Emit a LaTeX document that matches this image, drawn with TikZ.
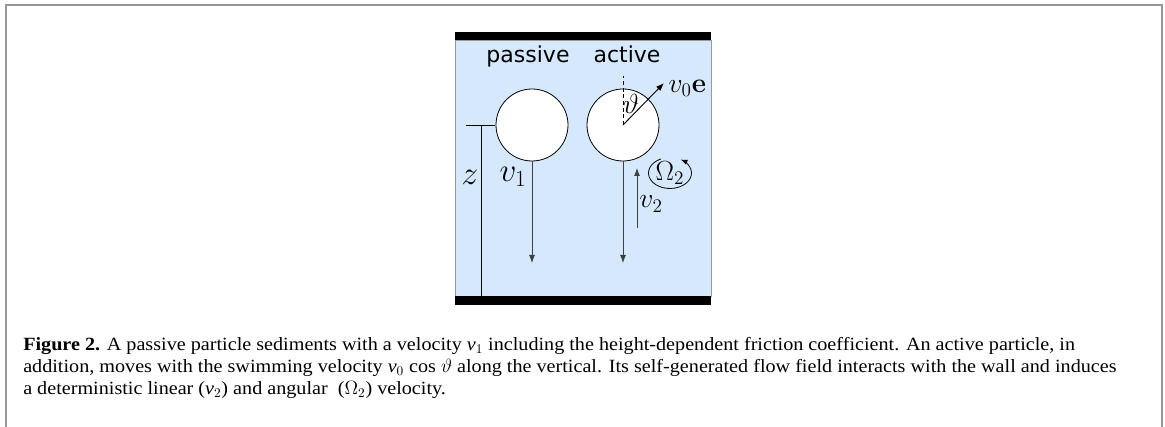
\documentclass[tikz,border=0pt]{standalone}
\usepackage[no-math]{fontspec}
\setmainfont[FakeStretch=1.08]{Liberation Serif}
\newfontfamily\labelfont{DejaVu Sans}
\usetikzlibrary{positioning,calc,arrows.meta}
\definecolor{fluid}{RGB}{213,232,252}
\definecolor{framegray}{RGB}{150,150,150}

\begin{document}
\begin{tikzpicture}
    [
    x=0.75pt, y=-0.75pt,
    particle/.style={
      circle, draw=black, fill=white, line width=0.6pt,
      minimum size=54pt, inner sep=0pt
      },
    velocity/.style={
      line width=0.7pt, color=black!75, -{Latex[length=6pt,width=4.5pt]}
      },
    wall/.style={fill=black},
    mathlabel/.style={inner sep=1pt, font=\fontsize{20}{23}\selectfont},
    biglabel/.style={inner sep=1pt, font=\fontsize{25}{28}\selectfont},
    boxlabel/.style={anchor=base, inner sep=0pt, font=\labelfont\fontsize{16.5}{20}\selectfont},
    captionline/.style={anchor=base west, inner sep=0pt, font=\fontsize{14}{16.5}\selectfont}
    ]
    \useasboundingbox (0,0) rectangle (1165,427);

    % Frame round the figure
    \draw[framegray, line width=1.5pt] (6,427) -- (6,5) -- (1162,5) -- (1162,427);

    % Fluid between the two walls
    \filldraw[fill=fluid, draw=black!40, line width=0.6pt] (455,40) rectangle (711,296);
    \foreach \ytop/\ybot in {32/40, 296/305} {
      \fill[wall] (455,\ytop) rectangle (711,\ybot);
    }

    \node[boxlabel] (passive) at (528,63) {passive};
    \node[boxlabel] (active) at (627,63) {active};

    % Draw the two particles
    \node[particle] (pas) at (532,125) {};
    \node[particle] (act) at (623,125) {};

    % Sedimentation velocities
    \coordinate (pasend) at (532,263);
    \coordinate (actend) at (623,263);
    \draw[velocity] (pas.south) -- (pasend);
    \draw[velocity] (act.south) -- (actend);
    \node[biglabel] (vone) at (513,177) {$v_1$};

    % Swimming direction of the active particle
    \coordinate (up) at ($(act.center)+(0,-49)$);
    \coordinate (swim) at ($(act.center)+(41,-42)$);
    \draw[densely dashed, line width=0.5pt] (act.center) -- (up);
    \draw[velocity, color=black] (act.center) -- (swim);
    \node[mathlabel, anchor=west] (vzero) at (667,88) {$v_0\mathbf{e}$};
    \node[mathlabel] (theta) at (631,104) {$\vartheta$};

    % Wall induced velocities
    \coordinate (vtwostart) at (637,228);
    \coordinate (vtwoend) at (637,168);
    \draw[velocity] (vtwostart) -- (vtwoend);
    \node[mathlabel] (vtwo) at (651,204) {$v_2$};
    \node[mathlabel, font=\fontsize{22}{25}\selectfont] (om) at (670,173) {$\Omega_2$};
    \draw[line width=0.6pt, -{Latex[length=5pt,width=4pt]}] ($(om.center)+(-115:21.5 and 15.5)$)
      arc[start angle=-115, end angle=-420, x radius=21.5, y radius=15.5];

    % Height above the wall
    \coordinate (ztop) at (466,125);
    \coordinate (ztick) at (495,125);
    \coordinate (zmid) at (481,125);
    \coordinate (zfoot) at (481,296);
    \draw[line width=0.6pt] (ztop) -- (ztick);
    \draw[line width=0.6pt] (zmid) -- (zfoot);
    \node[biglabel] (zlabel) at (470,177) {$z$};

    % Caption
    \node[captionline] (capone) at (23,351) {\textbf{Figure 2.} A passive particle sediments with a velocity \textit{v}$_1$ including the height-dependent friction coefficient. An active particle, in};
    \node[captionline] (captwo) at (23,373) {addition, moves with the swimming velocity \textit{v}$_0$ cos $\vartheta$ along the vertical. Its self-generated flow field interacts with the wall and induces};
    \node[captionline] (capthree) at (23,395) {a deterministic linear (\textit{v}$_2$) and angular~ ($\Omega$$_2$) velocity.};
  \end{tikzpicture}
\end{document}
